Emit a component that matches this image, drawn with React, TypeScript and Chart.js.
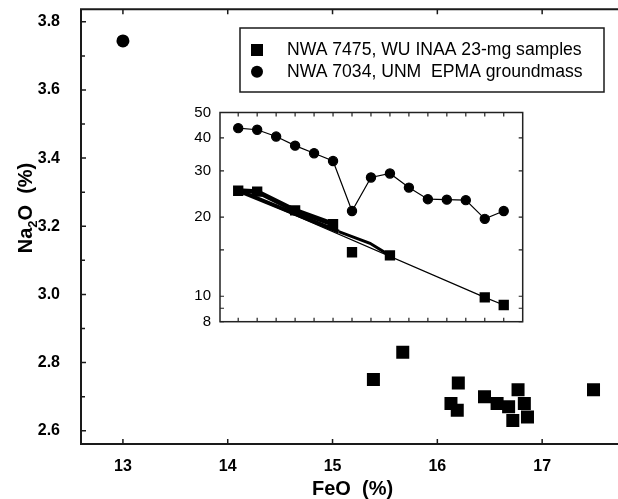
import React, { useEffect, useRef } from "react";
import { Chart, registerables } from "chart.js";

Chart.register(...registerables);

// ---------- Main chart data ----------
const feoSquares = [15.67, 15.39, 16.2, 16.13, 16.19, 16.45, 16.57, 16.68, 16.77, 16.83, 16.72, 16.86, 17.49];
const na2oSquares = [2.83, 2.75, 2.74, 2.68, 2.66, 2.7, 2.68, 2.67, 2.72, 2.68, 2.63, 2.64, 2.72];
const feoCircles = [13.0];
const na2oCircles = [3.744];
const xTicks = [13, 14, 15, 16, 17];
const yTicks = [2.6, 2.8, 3.0, 3.2, 3.4, 3.6, 3.8];
const yMinorTicks = [2.7, 2.9, 3.1, 3.3, 3.5, 3.7];
const legendLabels = ["NWA 7475, WU INAA 23-mg samples", "NWA 7034, UNM  EPMA groundmass"];

// ---------- Inset data ----------
const insetCircleIdx = [0, 1, 2, 3, 4, 5, 6, 7, 8, 9, 10, 11, 12, 13, 14];
const insetCircleVals = [43.6, 43.0, 40.5, 37.4, 35.0, 32.7, 21.1, 28.3, 29.3, 25.9, 23.4, 23.3, 23.2, 19.7, 21.1];
const insetSquareIdx = [0, 1, 3, 5, 6, 8, 13, 14];
const insetSquareVals = [25.2, 25.0, 21.2, 18.8, 14.7, 14.3, 9.9, 9.26];
const fitIdx = [0, 13, 14];
const fitVals = [25.2, 9.9, 9.26];
const thickIdx = [0, 1, 3, 5];
const thickVals = [25.2, 25.0, 21.2, 18.8];
const thickFitIdx = [0, 5.3];
const thickFitVals = [25.2, 17.6];
const wedgeIdx = [5.3, 6.95, 7.98];
const wedgeVals = [17.6, 15.9, 14.3];
const insetXTicks = [0, 1, 2, 3, 4, 5, 6, 7, 8, 9, 10, 11, 12, 13, 14];
const insetYTicks = [8, 9, 10, 15, 20, 30, 40, 50];
const insetYLabels = [8, 10, 20, 30, 40, 50];

const FONT = "'Liberation Sans', Arial, Helvetica, sans-serif";

const pts = (xs: number[], ys: number[]) => xs.map((x, i) => ({ x, y: ys[i] }));

const mainDeco = {
  id: "mainDeco",
  afterDraw(chart: any) {
    const { ctx, chartArea: a, scales } = chart;
    const x = scales.x;
    const y = scales.y;
    ctx.save();
    ctx.strokeStyle = "#1a1a1a";
    ctx.lineWidth = 2;
    ctx.beginPath();
    ctx.moveTo(a.right + 10, a.top);
    ctx.lineTo(a.left, a.top);
    ctx.lineTo(a.left, a.bottom);
    ctx.lineTo(a.right + 10, a.bottom);
    ctx.stroke();
    ctx.lineWidth = 1.5;
    ctx.beginPath();
    for (const v of xTicks) {
      const px = x.getPixelForValue(v);
      ctx.moveTo(px, a.bottom);
      ctx.lineTo(px, a.bottom - 5);
      ctx.moveTo(px, a.top);
      ctx.lineTo(px, a.top + 5);
    }
    for (const v of yTicks) {
      const py = y.getPixelForValue(v);
      ctx.moveTo(a.left, py);
      ctx.lineTo(a.left + 5, py);
    }
    for (const v of yMinorTicks) {
      const py = y.getPixelForValue(v);
      ctx.moveTo(a.left, py);
      ctx.lineTo(a.left + 4, py);
    }
    ctx.stroke();

    // legend box
    ctx.lineWidth = 1.5;
    ctx.strokeRect(240, 28, 364, 64);
    ctx.fillStyle = "#000";
    ctx.fillRect(251, 44, 12, 12);
    ctx.beginPath();
    ctx.arc(257, 71.7, 6, 0, Math.PI * 2);
    ctx.fill();
    ctx.font = `17.6px ${FONT}`;
    ctx.textBaseline = "middle";
    ctx.textAlign = "left";
    ctx.fillText(legendLabels[0], 287, 50);
    ctx.fillText(legendLabels[1], 287, 71.7);

    // x title
    ctx.font = `bold 20px ${FONT}`;
    ctx.textAlign = "center";
    ctx.textBaseline = "middle";
    ctx.fillText("FeO  (%)", x.getPixelForValue(15.0) + 20, 489);

    // y title with subscript
    ctx.translate(25, 208);
    ctx.rotate(-Math.PI / 2);
    const big = `bold 20px ${FONT}`;
    const small = `bold 13px ${FONT}`;
    ctx.font = big;
    const w1 = ctx.measureText("Na").width;
    const w3 = ctx.measureText("O  (%)").width;
    ctx.font = small;
    const w2 = ctx.measureText("2").width;
    let sx = -(w1 + w2 + w3) / 2;
    ctx.textAlign = "left";
    ctx.textBaseline = "alphabetic";
    ctx.font = big;
    ctx.fillText("Na", sx, 7);
    sx += w1;
    ctx.font = small;
    ctx.fillText("2", sx, 12);
    sx += w2;
    ctx.font = big;
    ctx.fillText("O  (%)", sx, 7);
    ctx.restore();
  },
};

const insetDeco = {
  id: "insetDeco",
  afterDraw(chart: any) {
    const { ctx, chartArea: a, scales } = chart;
    const x = scales.x;
    const y = scales.y;
    ctx.save();
    ctx.strokeStyle = "#222";
    ctx.lineWidth = 1.5;
    ctx.strokeRect(a.left, a.top, a.right - a.left, a.bottom - a.top);
    ctx.lineWidth = 1.2;
    ctx.beginPath();
    for (const v of insetXTicks) {
      const px = x.getPixelForValue(v);
      ctx.moveTo(px, a.bottom);
      ctx.lineTo(px, a.bottom - 4);
      ctx.moveTo(px, a.top);
      ctx.lineTo(px, a.top + 4);
    }
    for (const v of insetYTicks) {
      const py = y.getPixelForValue(v);
      ctx.moveTo(a.left, py);
      ctx.lineTo(a.left + 4, py);
      ctx.moveTo(a.right, py);
      ctx.lineTo(a.right - 4, py);
    }
    ctx.stroke();
    ctx.restore();
  },
};

export default function App() {
  const mainRef = useRef<HTMLCanvasElement>(null);
  const insetRef = useRef<HTMLCanvasElement>(null);

  useEffect(() => {
    const main = new Chart(mainRef.current as HTMLCanvasElement, {
      type: "scatter",
      data: {
        datasets: [
          {
            label: legendLabels[0],
            data: pts(feoSquares, na2oSquares),
            pointStyle: "rect",
            pointRadius: 9.2,
            backgroundColor: "#000",
            borderColor: "#000",
            borderWidth: 0,
          },
          {
            label: legendLabels[1],
            data: pts(feoCircles, na2oCircles),
            pointStyle: "circle",
            pointRadius: 6.5,
            backgroundColor: "#000",
            borderColor: "#000",
            borderWidth: 0,
          },
        ],
      },
      options: {
        responsive: false,
        animation: false,
        layout: { padding: { left: 0, top: 9, right: 14, bottom: 0 } },
        plugins: { legend: { display: false }, tooltip: { enabled: false } },
        scales: {
          x: {
            type: "linear",
            min: 12.6,
            max: 17.8,
            afterBuildTicks: (s: any) => {
              s.ticks = xTicks.map((v) => ({ value: v }));
            },
            afterFit: (s: any) => {
              s.height = 55;
            },
            grid: { display: false, drawTicks: true, tickLength: 13 },
            border: { display: false },
            ticks: {
              padding: 0,
              color: "#000",
              font: { family: FONT, size: 16, weight: "bold", lineHeight: 1.2 },
              callback: (v: any) => String(v),
            },
          },
          y: {
            type: "linear",
            min: 2.561,
            max: 3.837,
            afterBuildTicks: (s: any) => {
              s.ticks = yTicks.map((v) => ({ value: v }));
            },
            afterFit: (s: any) => {
              s.width = 81;
            },
            grid: { display: false, drawTicks: true, tickLength: 21 },
            border: { display: false },
            ticks: {
              padding: 0,
              color: "#000",
              font: { family: FONT, size: 16, weight: "bold", lineHeight: 1 },
              callback: (v: any) => Number(v).toFixed(1),
            },
          },
        },
      },
      plugins: [mainDeco],
    } as any);

    const inset = new Chart(insetRef.current as HTMLCanvasElement, {
      type: "scatter",
      data: {
        datasets: [
          {
            data: pts(insetSquareIdx, insetSquareVals),
            pointStyle: "rect",
            pointRadius: 7.3,
            backgroundColor: "#000",
            borderWidth: 0,
            showLine: false,
          },
          {
            data: pts(insetCircleIdx, insetCircleVals),
            pointStyle: "circle",
            pointRadius: 4.6,
            backgroundColor: "#000",
            borderColor: "#000",
            borderWidth: 1.2,
            showLine: true,
          },
          {
            data: pts(fitIdx, fitVals),
            pointRadius: 0,
            borderColor: "#000",
            borderWidth: 1.2,
            showLine: true,
          },
          {
            data: pts(thickIdx, thickVals),
            pointRadius: 0,
            borderColor: "#000",
            borderWidth: 5,
            showLine: true,
          },
          {
            data: pts(thickFitIdx, thickFitVals),
            pointRadius: 0,
            borderColor: "#000",
            borderWidth: 4,
            showLine: true,
          },
          {
            data: pts(wedgeIdx, wedgeVals),
            pointRadius: 0,
            borderColor: "#000",
            borderWidth: 3,
            showLine: true,
          },
        ],
      },
      options: {
        responsive: false,
        animation: false,
        layout: { padding: { left: 0, top: 12.5, right: 6.7, bottom: 8.3 } },
        plugins: { legend: { display: false }, tooltip: { enabled: false } },
        scales: {
          x: {
            type: "linear",
            min: -0.96,
            max: 15,
            display: false,
          },
          y: {
            type: "logarithmic",
            min: 8,
            max: 50,
            afterBuildTicks: (s: any) => {
              s.ticks = insetYTicks.map((v) => ({ value: v }));
            },
            afterFit: (s: any) => {
              s.width = 40;
            },
            grid: { display: false, drawTicks: true, tickLength: 9 },
            border: { display: false },
            ticks: {
              padding: 0,
              color: "#000",
              font: { family: FONT, size: 15, lineHeight: 1 },
              callback: (v: any) => (insetYLabels.includes(Number(v)) ? String(v) : ""),
            },
          },
        },
      },
      plugins: [insetDeco],
    } as any);

    return () => {
      main.destroy();
      inset.destroy();
    };
  }, []);

  return (
    <div
      style={{
        position: "absolute",
        left: 0,
        top: 0,
        width: 618,
        height: 499,
        overflow: "hidden",
        background: "#fff",
      }}
    >
      <canvas ref={mainRef} width={640} height={499} style={{ position: "absolute", left: 0, top: 0 }} />
      <canvas ref={insetRef} width={350} height={230} style={{ position: "absolute", left: 180, top: 100 }} />
    </div>
  );
}
